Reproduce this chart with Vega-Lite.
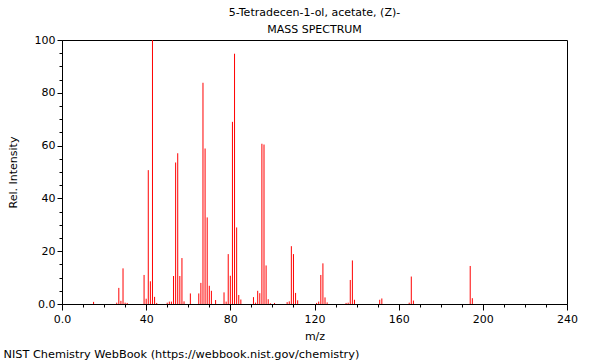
{
  "$schema": "https://vega.github.io/schema/vega-lite/v6.json",
  "width": 505,
  "height": 264,
  "autosize": {"type": "none"},
  "padding": {"left": 62, "top": 40, "right": 33, "bottom": 56},
  "background": "white",
  "title": {
    "text": ["5-Tetradecen-1-ol, acetate, (Z)-", "MASS SPECTRUM"],
    "anchor": "middle",
    "font": "DejaVu Sans",
    "fontSize": 11,
    "fontWeight": "normal",
    "color": "black",
    "lineHeight": 17,
    "baseline": "bottom",
    "offset": -12
  },
  "config": {
    "view": {"stroke": "black", "strokeWidth": 1},
    "axis": {
      "labelFont": "DejaVu Sans",
      "labelFontSize": 11,
      "labelColor": "black",
      "titleFont": "DejaVu Sans",
      "titleFontSize": 11,
      "titleFontWeight": "normal",
      "titleColor": "black",
      "domainColor": "black",
      "tickColor": "black",
      "grid": false,
      "labelOverlap": false,
      "labelFlush": false
    }
  },
  "data": {
    "values": [
      {"mz": 15, "intensity": 0.8},
      {"mz": 26, "intensity": 0.5},
      {"mz": 27, "intensity": 6.1},
      {"mz": 28, "intensity": 1.2},
      {"mz": 29, "intensity": 13.5},
      {"mz": 30, "intensity": 0.5},
      {"mz": 31, "intensity": 0.4},
      {"mz": 39, "intensity": 11.0},
      {"mz": 40, "intensity": 2.0},
      {"mz": 41, "intensity": 50.7},
      {"mz": 42, "intensity": 8.6},
      {"mz": 43, "intensity": 100},
      {"mz": 44, "intensity": 2.7},
      {"mz": 45, "intensity": 0.4},
      {"mz": 50, "intensity": 0.5},
      {"mz": 51, "intensity": 0.9},
      {"mz": 52, "intensity": 0.9},
      {"mz": 53, "intensity": 10.6},
      {"mz": 54, "intensity": 53.6},
      {"mz": 55, "intensity": 57.1},
      {"mz": 56, "intensity": 10.6},
      {"mz": 57, "intensity": 17.4},
      {"mz": 58, "intensity": 1.0},
      {"mz": 61, "intensity": 4.0},
      {"mz": 65, "intensity": 4.0},
      {"mz": 66, "intensity": 8.0},
      {"mz": 67, "intensity": 83.8},
      {"mz": 68, "intensity": 58.9},
      {"mz": 69, "intensity": 32.8},
      {"mz": 70, "intensity": 6.9},
      {"mz": 71, "intensity": 5.0},
      {"mz": 73, "intensity": 1.5},
      {"mz": 77, "intensity": 4.4},
      {"mz": 78, "intensity": 0.9},
      {"mz": 79, "intensity": 18.9},
      {"mz": 80, "intensity": 10.7},
      {"mz": 81, "intensity": 69.0},
      {"mz": 82, "intensity": 94.8},
      {"mz": 83, "intensity": 29.0},
      {"mz": 84, "intensity": 3.4},
      {"mz": 85, "intensity": 1.7},
      {"mz": 91, "intensity": 2.6},
      {"mz": 92, "intensity": 0.5},
      {"mz": 93, "intensity": 5.0},
      {"mz": 94, "intensity": 4.1},
      {"mz": 95, "intensity": 60.7},
      {"mz": 96, "intensity": 60.4},
      {"mz": 97, "intensity": 14.6},
      {"mz": 98, "intensity": 1.8},
      {"mz": 99, "intensity": 0.3},
      {"mz": 101, "intensity": 0.4},
      {"mz": 107, "intensity": 0.7},
      {"mz": 108, "intensity": 1.0},
      {"mz": 109, "intensity": 21.9},
      {"mz": 110, "intensity": 18.9},
      {"mz": 111, "intensity": 4.2},
      {"mz": 112, "intensity": 1.4},
      {"mz": 121, "intensity": 0.4},
      {"mz": 122, "intensity": 0.9},
      {"mz": 123, "intensity": 11.0},
      {"mz": 124, "intensity": 15.4},
      {"mz": 125, "intensity": 2.5},
      {"mz": 126, "intensity": 0.6},
      {"mz": 135, "intensity": 0.4},
      {"mz": 136, "intensity": 0.5},
      {"mz": 137, "intensity": 9.1},
      {"mz": 138, "intensity": 16.5},
      {"mz": 139, "intensity": 1.6},
      {"mz": 151, "intensity": 1.6},
      {"mz": 152, "intensity": 2.1},
      {"mz": 165, "intensity": 0.5},
      {"mz": 166, "intensity": 10.4},
      {"mz": 167, "intensity": 1.3},
      {"mz": 194, "intensity": 14.4},
      {"mz": 195, "intensity": 2.2}
    ]
  },
  "layer": [
    {
      "mark": {"type": "rule", "color": "red", "strokeWidth": 1},
      "encoding": {
        "x": {
          "field": "mz",
          "type": "quantitative",
          "scale": {"domain": [0, 240], "nice": false, "zero": true},
          "axis": {
            "values": [0,10,20,30,40,50,60,70,80,90,100,110,120,130,140,150,160,170,180,190,200,210,220,230,240],
            "tickSize": {"condition": {"test": "datum.value % 40 === 0", "value": 6}, "value": 3},
            "labelExpr": "datum.value % 40 === 0 ? (datum.value === 0 ? '0.0' : datum.label) : ''",
            "labelPadding": 3,
            "title": "m/z",
            "titlePadding": 6
          }
        },
        "y": {
          "field": "intensity",
          "type": "quantitative",
          "scale": {"domain": [0, 100], "nice": false},
          "axis": {
            "values": [0,5,10,15,20,25,30,35,40,45,50,55,60,65,70,75,80,85,90,95,100],
            "tickSize": {"condition": {"test": "datum.value % 20 === 0", "value": 5}, "value": 3},
            "labelExpr": "datum.value % 20 === 0 ? (datum.value === 0 ? '0.0' : datum.label) : ''",
            "labelPadding": 2,
            "title": "Rel. Intensity",
            "titlePadding": 16
          }
        },
        "y2": {"datum": 0}
      }
    },
    {
      "mark": {"type": "rule", "opacity": 0},
      "encoding": {
        "x": {
          "field": "mz",
          "type": "quantitative",
          "scale": {"domain": [0, 240], "nice": false, "zero": true},
          "axis": {
            "orient": "bottom",
            "domain": false,
            "ticks": false,
            "labels": false,
            "grid": false,
            "title": "NIST Chemistry WebBook (https://webbook.nist.gov/chemistry)",
            "titleAnchor": "start",
            "titleAlign": "left",
            "titleBaseline": "alphabetic",
            "titleFontSize": 11.3,
            "titleX": -59,
            "titleY": 53
          }
        }
      }
    }
  ],
  "resolve": {"axis": {"x": "independent"}}
}
